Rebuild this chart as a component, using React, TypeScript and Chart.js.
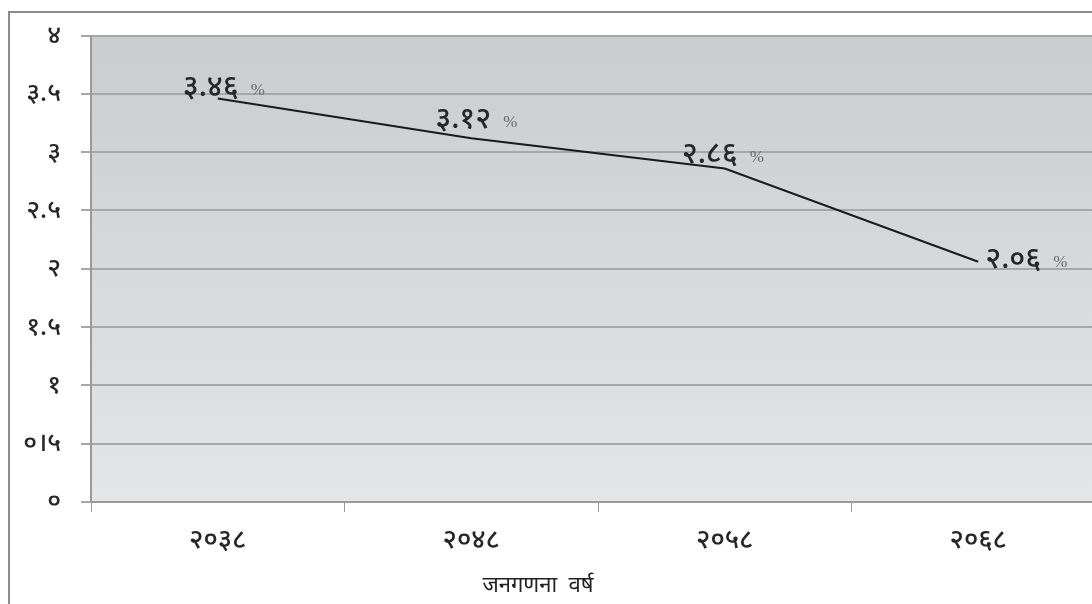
import React, { useEffect, useRef } from "react";
import { Chart, registerables } from "chart.js";

Chart.register(...registerables);

const categories = ["२०३८", "२०४८", "२०५८", "२०६८"];
const growthRate = [3.46, 3.12, 2.86, 2.06];
const rateLabels = ["३.४६", "३.१२", "२.८६", "२.०६"];
const yTickLabels = ["०", "०।५", "१", "१.५", "२", "२.५", "३", "३.५", "४"];
const xAxisTitle = "जनगणना  वर्ष";

const DEV_FONT = "'Noto Sans', 'Noto Sans Devanagari', 'Lohit Devanagari', sans-serif";

const W = 1120;
const H = 620;

const decorPlugin = {
  id: "decor",
  beforeDraw(chart: any) {
    const { ctx, chartArea } = chart;
    ctx.save();
    ctx.fillStyle = "#ffffff";
    ctx.fillRect(0, 0, chart.width, chart.height);
    ctx.strokeStyle = "#8c8c8c";
    ctx.lineWidth = 2;
    ctx.strokeRect(9, 12, chart.width + 20, chart.height + 20);
    const g = ctx.createLinearGradient(0, chartArea.top, 0, chartArea.bottom);
    g.addColorStop(0, "#cbccce");
    g.addColorStop(1, "#e4e5e7");
    ctx.fillStyle = g;
    ctx.fillRect(chartArea.left, chartArea.top, chartArea.right - chartArea.left, chartArea.bottom - chartArea.top);
    ctx.restore();
  },
  afterDraw(chart: any) {
    const { ctx } = chart;
    const meta = chart.getDatasetMeta(0);
    const offsets = [
      [-35, -11],
      [-36, -19],
      [-43, -14],
      [7, -2],
    ];
    ctx.save();
    ctx.textBaseline = "middle";
    ctx.textAlign = "left";
    meta.data.forEach((pt: any, i: number) => {
      const x = pt.x + offsets[i][0];
      const y = pt.y + offsets[i][1];
      ctx.font = `500 30px ${DEV_FONT}`;
      ctx.fillStyle = "#262626";
      const t = rateLabels[i];
      ctx.fillText(t, x, y);
      const w = ctx.measureText(t).width;
      ctx.font = "17px 'Liberation Serif', serif";
      ctx.fillStyle = "#6a6a6a";
      ctx.fillText("%", x + w + 12, y + 3);
    });
    ctx.font = `22px ${DEV_FONT}`;
    ctx.fillStyle = "#222222";
    ctx.textAlign = "center";
    ctx.fillText(xAxisTitle, 538, 586);
    ctx.restore();
  },
};

export default function App() {
  const ref = useRef<HTMLCanvasElement>(null);
  useEffect(() => {
    if (!ref.current) return;
    const chart = new Chart(ref.current, {
      type: "line",
      data: {
        labels: categories,
        datasets: [
          {
            data: growthRate,
            borderColor: "#1a1a1a",
            borderWidth: 2,
            pointRadius: 0,
            tension: 0,
            fill: false,
          },
        ],
      },
      options: {
        animation: false,
        responsive: false,
        devicePixelRatio: 1,
        layout: { padding: { left: 10, top: 33, right: 15, bottom: 0 } },
        plugins: {
          legend: { display: false },
          tooltip: { enabled: false },
        },
        scales: {
          x: {
            offset: true,
            grid: {
              offset: true,
              drawOnChartArea: false,
              tickLength: 10,
              color: "#9a9a9a",
              lineWidth: 1,
            },
            border: { color: "#9a9a9a", width: 2 },
            ticks: {
              font: { family: DEV_FONT, size: 27, weight: "500" },
              color: "#262626",
              padding: 12,
              maxRotation: 0,
            },
            afterFit(scale: any) {
              scale.height = H - 502;
            },
          },
          y: {
            min: 0,
            max: 4,
            ticks: {
              stepSize: 0.5,
              font: { family: DEV_FONT, size: 26, weight: "500" },
              color: "#262626",
              padding: 20,
              callback: (_v: any, i: number) => yTickLabels[i],
            },
            grid: {
              color: "#a6a7a9",
              lineWidth: 2,
              tickLength: 10,
            },
            border: { color: "#9a9a9a", width: 2 },
            afterFit(scale: any) {
              scale.width = 91 - 10;
            },
          },
        },
      },
      plugins: [decorPlugin],
    });
    return () => chart.destroy();
  }, []);
  return (
    <div style={{ position: "fixed", left: 0, top: 0, width: 1092, height: 604, overflow: "hidden", background: "#fff" }}>
      <canvas ref={ref} width={W} height={H} style={{ position: "absolute", left: 0, top: 0, width: W, height: H }} />
    </div>
  );
}
